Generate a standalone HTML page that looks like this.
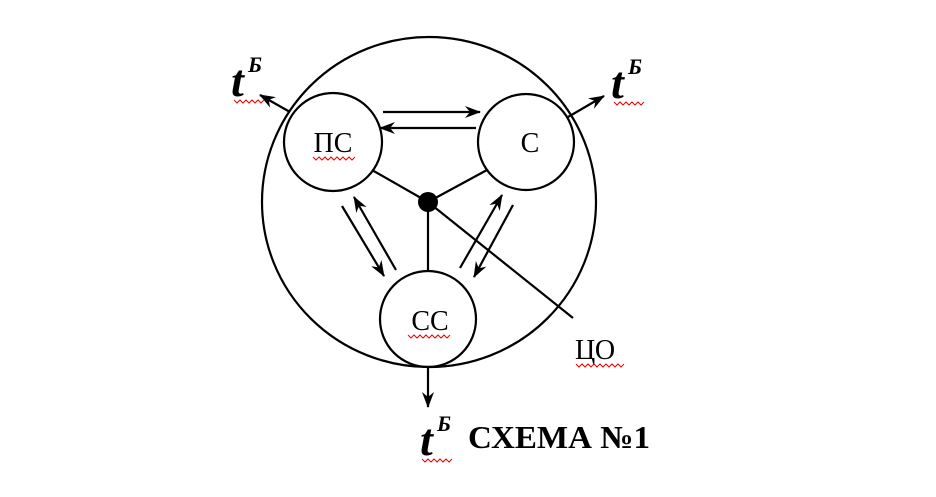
<!DOCTYPE html>
<html><head><meta charset="utf-8"><style>
html,body{margin:0;padding:0;background:#fff;}
svg{display:block}
</style></head><body>
<svg width="936" height="497" viewBox="0 0 936 497" xmlns="http://www.w3.org/2000/svg">
<defs>
<marker id="a" markerWidth="16" markerHeight="12" refX="15" refY="6" orient="auto" markerUnits="userSpaceOnUse">
<path d="M0,0 L16,6 L0,12 L5,6 Z" fill="#000"/>
</marker>
</defs>
<g fill="none" stroke="#000" stroke-width="2.2">
<ellipse cx="429" cy="202" rx="167" ry="165"/>
<circle cx="333" cy="142" r="49"/>
<circle cx="526" cy="142" r="48"/>
<circle cx="428" cy="319" r="48"/>
<line x1="372" y1="170" x2="428" y2="202"/>
<line x1="487" y1="170" x2="428" y2="202"/>
<line x1="428" y1="202" x2="428" y2="271"/>
<line x1="428" y1="202" x2="573" y2="318"/>
<line x1="383" y1="112" x2="480" y2="112" marker-end="url(#a)"/>
<line x1="476" y1="128" x2="380" y2="128" marker-end="url(#a)"/>
<line x1="342" y1="206" x2="384" y2="276" marker-end="url(#a)"/>
<line x1="396" y1="270" x2="354" y2="197" marker-end="url(#a)"/>
<line x1="460" y1="268" x2="502" y2="195" marker-end="url(#a)"/>
<line x1="513" y1="205" x2="474" y2="277" marker-end="url(#a)"/>
<line x1="290" y1="112" x2="260" y2="95" marker-end="url(#a)"/>
<line x1="568" y1="117" x2="604" y2="96" marker-end="url(#a)"/>
<line x1="428" y1="368" x2="428" y2="407" marker-end="url(#a)"/>
</g>
<g font-family="Liberation Serif, serif" fill="#000">
<text x="333" y="152" font-size="28" text-anchor="middle">ПС</text>
<text x="530" y="152" font-size="28" text-anchor="middle">С</text>
<text x="430" y="330" font-size="28" text-anchor="middle">СС</text>
<text x="575" y="359" font-size="28">ЦО</text>
<text x="231" y="96" font-size="46" font-weight="bold" font-style="italic">t</text>
<text x="248" y="72" font-size="22" font-weight="bold" font-style="italic">Б</text>
<text x="611" y="98" font-size="46" font-weight="bold" font-style="italic">t</text>
<text x="628" y="74" font-size="22" font-weight="bold" font-style="italic">Б</text>
<text x="420" y="455" font-size="46" font-weight="bold" font-style="italic">t</text>
<text x="437" y="431" font-size="22" font-weight="bold" font-style="italic">Б</text>
<text x="468" y="448" font-size="32" font-weight="bold" textLength="182" lengthAdjust="spacingAndGlyphs">СХЕМА №1</text>
</g>
<g fill="none" stroke="#e00" stroke-width="1">
<path d="M234,100 l3,3 l3,-3 l3,3 l3,-3 l3,3 l3,-3 l3,3 l3,-3 l3,3 l3,-3"/>
<path d="M614,102 l3,3 l3,-3 l3,3 l3,-3 l3,3 l3,-3 l3,3 l3,-3 l3,3 l3,-3"/>
<path d="M422,459 l3,3 l3,-3 l3,3 l3,-3 l3,3 l3,-3 l3,3 l3,-3 l3,3 l3,-3"/>
<path d="M313,157 l3,3 l3,-3 l3,3 l3,-3 l3,3 l3,-3 l3,3 l3,-3 l3,3 l3,-3 l3,3 l3,-3 l3,3 l3,-3"/>
<path d="M408,335 l3,3 l3,-3 l3,3 l3,-3 l3,3 l3,-3 l3,3 l3,-3 l3,3 l3,-3 l3,3 l3,-3 l3,3 l3,-3"/>
<path d="M576,364 l3,3 l3,-3 l3,3 l3,-3 l3,3 l3,-3 l3,3 l3,-3 l3,3 l3,-3 l3,3 l3,-3 l3,3 l3,-3 l3,3 l3,-3"/>
</g>
<circle cx="428" cy="202" r="10" fill="#000"/>
</svg>
</body></html>
